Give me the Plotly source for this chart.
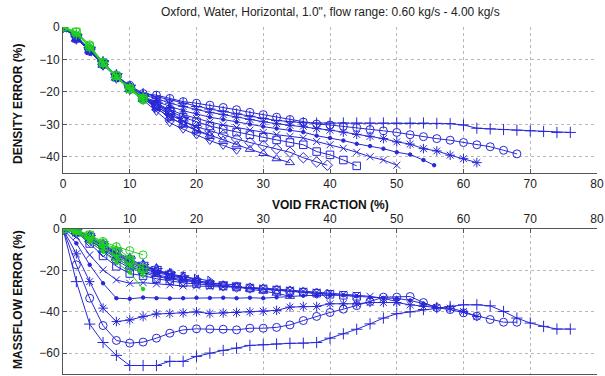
import plotly.graph_objects as go

# ---------------- data ----------------
# void fraction (%) per series
vf_plus = [0,2,4,6,8,10,12,14,16,18,20,22,24,26,28,30,32,34,36,38,40,42,44,46,48,50,52,54,56,58,60,62,64,66,68,70,72,74,76]
vf_circ = [0,2,4,6,8,10,12,14,16,18,20,22,24,26,28,30,32,34,36,38,40,42,44,46,48,50,52,54,56,58,60,62,64,66,68]
vf_star = [0,2,4,6,8,10,12,14,16,18,20,22,24,26,28,30,32,34,36,38,40,42,44,46,48,50,52,54,56,58,60,62]
vf_dot = [0,2,4,6,8,10,12,14,16,18,20,22,24,26,28,30,32,34,36,38,40,42,44,46,48,50,52,54,55.6]
vf_x = [0,2,4,6,8,10,12,14,16,18,20,22,24,26,28,30,32,34,36,38,40,42,44,46,48,50]
vf_sq = [0,2,4,6,8,10,12,14,16,18,20,22,24,26,28,30,32,34,36,38,40,42,44]
vf_dia = [0,2,4,6,8,10,12,14,16,18,20,22,24,26,28,30,32,34,36,38,39.6]
vf_up = [0,2,4,6,8,10,12,14,16,18,20,22,24,26,28,30,32,34]
vf_down = [0,2,4,6,8,10,12,14,16,18,20,22,24,26]
vf_right = [0,2,4,6,8,10,12,14,16,18,20,22]
vf_left = [0,2,4,6,8,10,12,14,16,18,20]
vf_pent = [0,2,4,6,8,10,12,14,16,18]
vf_hex = [0,2,4,6,8,10,12,14,16]
vf_green = [0,2,4,6,8,10,12]

# density error (%)
dens_plus = [0,-3,-7,-11.5,-15.5,-18.5,-20.5,
             -21.5,-22.5,-23.5,-24.5,-25.3,-26,-26.8,-27.5,-28.2,-28.8,-29.2,
             -29.5,
             -29.6,-29.6,-29.6,-29.6,-29.6,-29.6,-29.6,-29.6,-29.6,
             -29.7,-29.8,-30.2,
             -31.2,-31.4,-31.6,-31.8,-32,-32.2,-32.5,-32.5]
dens_circ = [0,-3.5,-7.5,-11.5,-15,-18,-20.5,
             -21,-22,-23,-23.5,-24.1,-24.8,-25.5,-26.3,-27,-27.8,-28.5,
             -29.3,-29.9,-30.2,-30.6,-31,-31.6,-32,-32.5,-33.2,-33.8,-34.4,-34.9,-35.6,-36.3,-36.9,-38,-39.1]
dens_star = [0,-3,-7,-11,-15,-18.5,-21,
             -22,-23.5,-24.5,-25.5,-26.3,-27,-27.8,-28.5,-29.2,-29.8,-30.3,
             -30.6,-31.3,-31.8,-32.4,-33.1,-33.7,-34.4,-35.4,-36.1,-37.5,-38.2,-39.5,-40.6,-41.8]
dens_dot = [0,-3.5,-7,-11.5,-15.5,-19,-21.5,
            -23,-24.5,-25.8,-26.8,-27.8,-28.5,-29.3,-30,-30.7,-31.3,-31.8,
            -32.4,-33.5,-34.2,-35,-36,-36.7,-37.5,-38.6,-39.3,-41,-42.6]
dens_x = [0,-3,-7.5,-11.5,-15,-18.5,-21.5,
          -23.5,-25.5,-27,-28.2,-29.3,-30.2,-31,-31.8,-32.5,-33.2,-33.7,
          -34.2,-35.3,-36.3,-37.4,-38.6,-40,-41,-42.6]
dens_sq = [0,-3.5,-7,-11,-15.5,-19,-22,
           -24,-26,-27.8,-29.2,-30.5,-31.5,-32.4,-33.2,-34,-34.8,-35.6,
           -36.3,-38.4,-39.4,-41,-42.8]
dens_dia = [0,-3,-7,-11.5,-15.5,-18.5,-21.5,
            -24.5,-27,-29,-30.7,-32,-33.3,-34.5,-35.6,-36.6,-37.6,-38.6,
            -40.3,-41.6,-42.6]
dens_up = [0,-3.5,-7.5,-11.5,-15,-18.5,-22,
           -25,-27.8,-30,-31.8,-33.3,-34.8,-36.3,-37.7,-39,-40.6,-41.8]
dens_down = [0,-3,-7,-11,-15.5,-19,-22.5,-26,-29.5,-31.5,-33.3,-35,-36.5,-38]
dens_right = [0,-3.5,-7,-11.5,-15,-18.5,-22,-25,-28,-30,-32,-33.5]
dens_left = [0,-3,-7.5,-11.5,-15.5,-19,-22,-24.5,-27,-29,-31]
dens_pent = [0,-3,-7,-11,-15,-18.5,-21.5,-24,-26.5,-28.5]
dens_hex = [0,-3.5,-7,-11.5,-15.5,-19,-22,-23.5,-26]
dens_g_plus = [0,-2,-6,-11,-15.5,-19,-22]
dens_g_circ = [0,-1.5,-5.5,-11,-15,-19,-22.5]
dens_g_star = [0,-2.5,-6.5,-11.5,-15.5,-18.5,-21.5]
dens_g_dot = [0,-2,-6,-11,-15,-19,-23]
dens_g_x = [0,-2,-6,-11.5,-15.5,-19.5,-22]
dens_g_sq = [0,-1.5,-6,-11,-15,-19,-22]

# massflow error (%)
mass_plus = [0,-25.4,-45.9,-54.8,-61,-65.9,-65.9,-65.9,-63.9,-63.9,-61.5,-59.9,-58.6,-57.5,-56.2,-55.9,-55.5,-55.2,
             -55.1,-54.8,-52.7,-50.6,-48.4,-45.8,-43,-40.9,-40,-38.9,-38,-37.4,-36.6,-36.6,-37.1,-39.8,-43,-45.4,-47,-48.3,-48.3]
mass_circ = [0,-17.3,-33.4,-46.6,-53.8,-55.1,-54.6,-52.7,-50.3,-48.7,-48.2,-48.3,-48.4,-48.7,-47.9,-47.9,-47.5,-46.3,
             -44.2,-42.2,-40.3,-38.7,-37,-35,-32.9,-32.9,-32.6,-35.5,-38,-38.9,-40.5,-42.1,-43.7,-45,-45]
mass_star = [0,-12,-25.4,-38.2,-44.7,-43.9,-42.3,
             -41,-40.8,-40.5,-40,-40.8,-40.5,-40.3,-40,-39.7,-39.3,-37.7,
             -37.4,-37.4,-36.1,-36.1,-36.1,-35.5,-35.5,-35.5,-36.6,-37.4,-37.9,-38.2,-39.8,-42.2]
mass_dot = [0,-6.9,-17.3,-26.2,-33.4,-33.7,-33.1,
            -33.4,-33.5,-33.4,-33.2,-33.3,-33.2,-33.4,-33.2,-33.4,-33,-32.5,
            -32.2,-32,-32,-32,-32.5,-33,-33.3,-33.5,-34.5,-36,-37.5]
mass_x = [0,-3.7,-12.5,-19.7,-24.6,-26.2,-25.9,
          -26.5,-27,-27.5,-27.5,-27.8,-28,-28,-28.2,-28.5,-29,-29.5,
          -30,-30.5,-31,-31.5,-32,-32.5,-33.5,-35]
mass_sq = [0,-1.5,-7,-13,-18,-21.5,-22.5,
           -24,-25,-26,-26.5,-27,-27.5,-28,-28.5,-29,-29.5,-30,
           -30.5,-31,-31.5,-32,-32.5]
mass_dia = [0,-2,-6,-11,-15,-19,-21,
            -23,-24,-25,-25.5,-26.5,-27.5,-28,-28.5,-29,-29.5,-30,
            -30.5,-31,-31.5]
mass_up = [0,-1.5,-5,-10,-14,-18,-20.5,
           -22,-23.5,-24.5,-25,-26,-27,-28,-29,-30,-31,-32.5]
mass_down = [0,-1.5,-5.5,-9.5,-13,-17,-19.5,-21,-22.5,-24,-25,-26,-26.5,-27]
mass_right = [0,-1,-4.5,-9,-12.5,-16,-19,-20.5,-22,-23,-24,-25]
mass_left = [0,-1,-4,-8.5,-12,-15.5,-18.5,-20,-21.5,-23,-24.5]
mass_pent = [0,-1,-4,-8,-11.5,-15,-18,-20,-22,-23.5]
mass_hex = [0,-1,-3.5,-7.5,-11,-14.5,-17.5,-19.5,-22]
mass_g_plus = [0,-1,-4,-7.5,-9,-14,-19]
mass_g_circ = [0,-0.5,-3,-6,-8.5,-10.4,-12.5]
mass_g_star = [0,-1.5,-5,-9,-13,-17,-21]
mass_g_dot = [0,-2,-6,-11,-16,-21,-29]
mass_g_x = [0,-1,-4.5,-9,-14,-18,-22]
mass_g_sq = [0,-0.5,-2.9,-7,-11,-15,-19]

title_text = 'Oxford, Water, Horizontal, 1.0", flow range: 0.60 kg/s - 4.00 kg/s'
x_ticks = [0, 10, 20, 30, 40, 50, 60, 70, 80]
y1_ticks = [0, -10, -20, -30, -40]
y2_ticks = [0, -20, -40, -60]

# ---------------- styling ----------------
BLUE = "rgb(40,40,215)"
GREEN = "rgb(30,210,30)"
SYM = {
    "+": ("cross-thin-open", 8),
    "o": ("circle-open", 8),
    "*": ("asterisk-open", 8),
    ".": ("circle", 3.5),
    "x": ("x-thin-open", 7),
    "s": ("square-open", 7.5),
    "d": ("diamond-open", 8),
    "^": ("triangle-up-open", 8),
    "v": ("triangle-down-open", 8),
    ">": ("triangle-right-open", 8),
    "<": ("triangle-left-open", 8),
    "p": ("star-open", 9),
    "h": ("hexagram-open", 9),
}

series = [
    (vf_plus, dens_plus, mass_plus, "+", BLUE),
    (vf_circ, dens_circ, mass_circ, "o", BLUE),
    (vf_star, dens_star, mass_star, "*", BLUE),
    (vf_dot, dens_dot, mass_dot, ".", BLUE),
    (vf_x, dens_x, mass_x, "x", BLUE),
    (vf_sq, dens_sq, mass_sq, "s", BLUE),
    (vf_dia, dens_dia, mass_dia, "d", BLUE),
    (vf_up, dens_up, mass_up, "^", BLUE),
    (vf_down, dens_down, mass_down, "v", BLUE),
    (vf_right, dens_right, mass_right, ">", BLUE),
    (vf_left, dens_left, mass_left, "<", BLUE),
    (vf_pent, dens_pent, mass_pent, "p", BLUE),
    (vf_hex, dens_hex, mass_hex, "h", BLUE),
    (vf_green, dens_g_plus, mass_g_plus, "+", GREEN),
    (vf_green, dens_g_circ, mass_g_circ, "o", GREEN),
    (vf_green, dens_g_star, mass_g_star, "*", GREEN),
    (vf_green, dens_g_dot, mass_g_dot, ".", GREEN),
    (vf_green, dens_g_x, mass_g_x, "x", GREEN),
    (vf_green, dens_g_sq, mass_g_sq, "s", GREEN),
]

fig = go.Figure()
for vf, dens, mass, m, col in series:
    sym, size = SYM[m]
    mk = dict(symbol=sym, size=size, color=col, line=dict(color=col, width=1))
    fig.add_trace(go.Scatter(x=vf, y=dens, mode="lines+markers", xaxis="x", yaxis="y",
                             line=dict(color=col, width=1), marker=mk, showlegend=False,
                             hoverinfo="skip"))
    fig.add_trace(go.Scatter(x=vf, y=mass, mode="lines+markers", xaxis="x2", yaxis="y2",
                             line=dict(color=col, width=1), marker=mk, showlegend=False,
                             hoverinfo="skip"))

W, H = 605, 376
XL, XR = 63, 597
TOP1, BOT1 = 27, 173
TOP2, BOT2 = 229, 374

FONT = "Liberation Sans, Arial, sans-serif"
axis_common = dict(showline=True, linecolor="#555", linewidth=1, ticks="inside", ticklen=4,
                   tickcolor="#555", showgrid=True, gridcolor="#b8b8b8", griddash="dot",
                   gridwidth=1, zeroline=False, automargin=False, ticklabeloverflow="allow",
                   tickfont=dict(family=FONT, size=12, color="#222"))

fig.update_layout(
    width=W, height=H,
    margin=dict(l=0, r=0, t=0, b=0, pad=0, autoexpand=False),
    paper_bgcolor="white", plot_bgcolor="white",
    showlegend=False,
    xaxis=dict(domain=[XL / W, XR / W], range=[0, 80], tickvals=x_ticks, anchor="y", **axis_common),
    yaxis=dict(domain=[1 - BOT1 / H, 1 - TOP1 / H], range=[-45, 0], tickvals=y1_ticks, anchor="x", **axis_common),
    xaxis2=dict(domain=[XL / W, XR / W], range=[0, 80], tickvals=x_ticks, anchor="y2", side="top",
                mirror=True, **axis_common),
    yaxis2=dict(domain=[1 - BOT2 / H, 1 - TOP2 / H], range=[-70, 0], tickvals=y2_ticks, anchor="x2", **axis_common),
    annotations=[
        dict(text=title_text, x=(XL + XR) / 2 / W, y=1 - 12 / H, xref="paper", yref="paper",
             showarrow=False, xanchor="center", yanchor="middle",
             font=dict(family=FONT, size=12, color="#222")),
        dict(text="<b>VOID FRACTION (%)</b>", x=(XL + XR) / 2 / W, y=1 - 205 / H, xref="paper", yref="paper",
             showarrow=False, xanchor="center", yanchor="middle",
             font=dict(family=FONT, size=12, color="#111")),
        dict(text="<b>DENSITY ERROR (%)</b>", x=18 / W, y=1 - 104 / H, xref="paper", yref="paper",
             showarrow=False, xanchor="center", yanchor="middle", textangle=-90,
             font=dict(family=FONT, size=12, color="#111")),
        dict(text="<b>MASSFLOW ERROR (%)</b>", x=18 / W, y=1 - 300 / H, xref="paper", yref="paper",
             showarrow=False, xanchor="center", yanchor="middle", textangle=-90,
             font=dict(family=FONT, size=12, color="#111")),
    ],
)

fig.write_html("out.html", config={"displayModeBar": False},
               post_script="document.body.style.margin='0px';document.body.style.overflow='hidden';")
